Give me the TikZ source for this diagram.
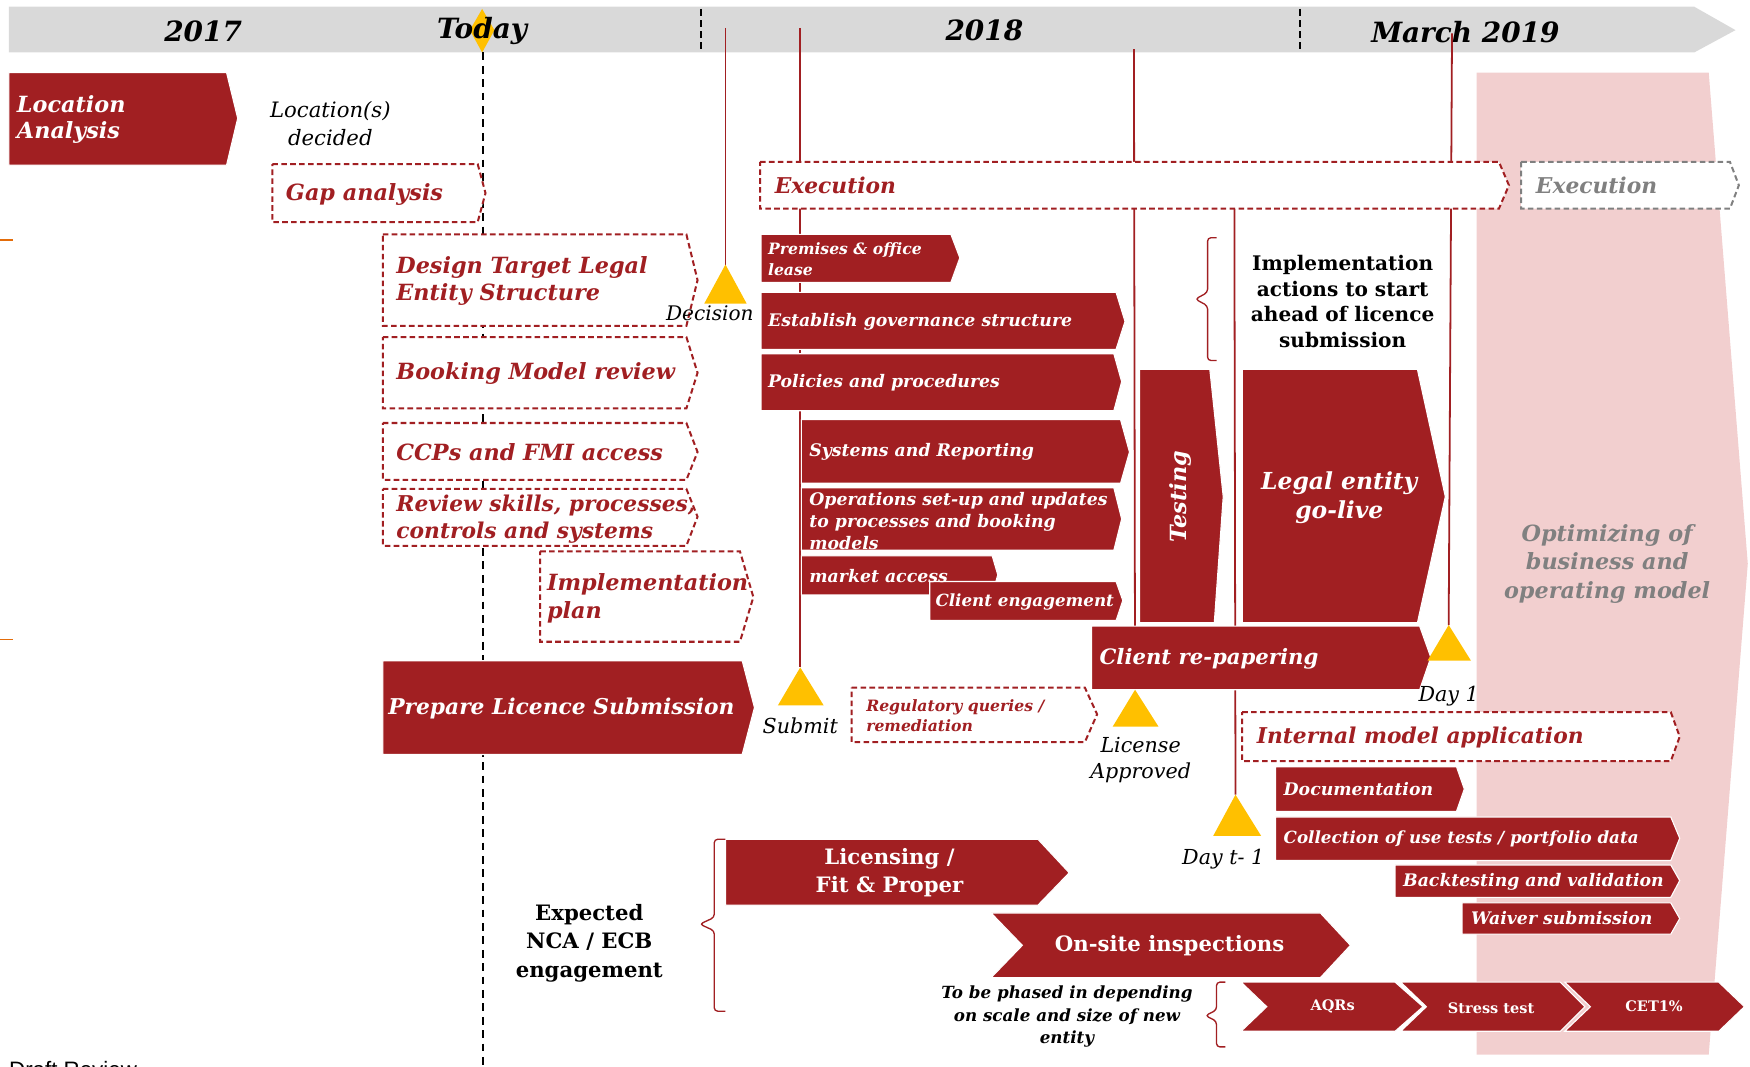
\documentclass[tikz,border=0pt]{standalone}
\usepackage{fontspec}
\setmainfont{DejaVu Serif}
\setsansfont{Liberation Sans}
\definecolor{pwcred}{HTML}{A11F22}
\definecolor{gold}{HTML}{FFC000}
\definecolor{pinkbg}{HTML}{F2CFCF}
\definecolor{barfill}{HTML}{D9D9D9}
\definecolor{greytxt}{HTML}{808080}
\definecolor{tickorange}{HTML}{E36C0A}
\begin{document}
\begin{tikzpicture}
                [x=1pt, y=-1pt, inner sep=0pt,
                redbox/.style={fill=pwcred, draw=white, line width=1pt},
                dashbox/.style={fill=white, draw=pwcred, line width=1.8pt, dash pattern=on 5pt off 3pt},
                greybox/.style={fill=white, draw=greytxt, line width=1.8pt, dash pattern=on 5pt off 3pt},
                marker/.style={fill=gold},
                vline/.style={draw=pwcred, line width=1.6pt},
                bracket/.style={draw=pwcred, line width=1.2pt, rounded corners=3pt},
                fbi/.style 2 args={font=\fontsize{#1}{#2}\selectfont\bfseries\itshape},
                fb/.style 2 args={font=\fontsize{#1}{#2}\selectfont\bfseries},
                fi/.style 2 args={font=\fontsize{#1}{#2}\selectfont\itshape},
                wtxt/.style={text=white},
                rtxt/.style={text=pwcred}]
                \useasboundingbox (0,0) rectangle (1568,956);
                % Timeline bar
                \fill[barfill] (8,6) -- (1518,6) -- (1555,27) -- (1518,47) -- (8,47) -- cycle;
                \draw[line width=1.5pt, dash pattern=on 6pt off 4pt] (628,8) -- (628,47);
                \draw[line width=1.5pt, dash pattern=on 6pt off 4pt] (1165,8) -- (1165,47);
                \fill[gold] (432,8) -- (443,27) -- (432,47) -- (421,27) -- cycle;
                % Optimizing area
                \fill[pinkbg] (1323,65) -- (1531,65) -- (1566,505) -- (1531,945) -- (1323,945) -- cycle;
                \draw[tickorange, line width=1.2pt] (0,215) -- (12,215);
                \draw[tickorange, line width=1.2pt] (0,573) -- (12,573);
                % Define coordinates
                \coordinate (todaytop) at (433,47);
                \coordinate (todayend) at (433,960);
                \coordinate (dectop) at (650,25);
                \coordinate (subtop) at (717,25);
                \coordinate (apptop) at (1016,44);
                \coordinate (tm1top) at (1106,187);
                \coordinate (day1top) at (1301,30);
                \coordinate (decision) at (650,237);
                \coordinate (submit) at (717,598);
                \coordinate (approved) at (1017,618);
                \coordinate (dayone) at (1298,560);
                \coordinate (daytm1) at (1107,712);
                % Define lines
                \draw[line width=1.8pt, dash pattern=on 7pt off 5pt] (todaytop) -- (todayend);
                \draw[vline] (dectop) -- (decision);
                \draw[vline] (subtop) -- (submit);
                \draw[vline] (apptop) -- (approved);
                \draw[vline] (tm1top) -- (daytm1);
                \draw[vline] (day1top) -- (dayone);
                % Left column
                \draw[redbox] (8,65) -- (203,65) -- (213,106) -- (203,148) -- (8,148) -- cycle;
                \draw[dashbox] (244,147) -- (428,147) -- (435,173) -- (428,199) -- (244,199) -- cycle;
                \draw[dashbox] (343,210) -- (615,210) -- (625,251) -- (615,292) -- (343,292) -- cycle;
                \draw[dashbox] (343,302) -- (615,302) -- (625,334) -- (615,366) -- (343,366) -- cycle;
                \draw[dashbox] (343,379) -- (615,379) -- (625,405) -- (615,430) -- (343,430) -- cycle;
                \draw[dashbox] (343,438) -- (615,438) -- (625,463) -- (615,489) -- (343,489) -- cycle;
                \draw[dashbox] (484,494) -- (663,494) -- (675,535) -- (663,575) -- (484,575) -- cycle;
                \draw[redbox] (343,592) -- (665,592) -- (676,634) -- (665,676) -- (343,676) -- cycle;
                % Execution
                \draw[dashbox] (681,145) -- (1343,145) -- (1352,166) -- (1343,187) -- (681,187) -- cycle;
                \draw[greybox] (1363,145) -- (1550,145) -- (1558,166) -- (1550,187) -- (1363,187) -- cycle;
                \draw[redbox] (682,210) -- (852,210) -- (860,231) -- (852,253) -- (682,253) -- cycle;
                \draw[redbox] (682,262) -- (1000,262) -- (1008,288) -- (1000,313) -- (682,313) -- cycle;
                \draw[redbox] (682,317) -- (998,317) -- (1005,342) -- (998,368) -- (682,368) -- cycle;
                \draw[redbox] (718,376) -- (1004,376) -- (1012,405) -- (1004,433) -- (718,433) -- cycle;
                \draw[redbox] (718,437) -- (998,437) -- (1005,465) -- (998,493) -- (718,493) -- cycle;
                \draw[redbox] (718,498) -- (889,498) -- (894,515) -- (889,533) -- (718,533) -- cycle;
                \draw[redbox] (833,521) -- (1000,521) -- (1006,538) -- (1000,556) -- (833,556) -- cycle;
                \draw[redbox] (1021,331) -- (1084,331) -- (1096,445) -- (1088,558) -- (1021,558) -- cycle;
                \draw[redbox] (1113,331) -- (1270,331) -- (1295,445) -- (1270,558) -- (1113,558) -- cycle;
                \draw[bracket] (1090,213) -- (1082,213) -- (1082,262) -- (1071,268) -- (1082,274) -- (1082,323) -- (1090,323);
                \draw[redbox] (978,561) -- (1272,561) -- (1282,589) -- (1272,618) -- (978,618) -- cycle;
                \draw[dashbox] (763,616) -- (972,616) -- (983,640) -- (972,665) -- (763,665) -- cycle;
                % Internal model
                \draw[dashbox] (1113,638) -- (1497,638) -- (1505,660) -- (1497,682) -- (1113,682) -- cycle;
                \draw[redbox] (1143,687) -- (1305,687) -- (1312,707) -- (1305,727) -- (1143,727) -- cycle;
                \draw[redbox] (1143,732) -- (1497,732) -- (1505,751) -- (1497,771) -- (1143,771) -- cycle;
                \draw[redbox] (1250,775) -- (1497,775) -- (1505,789) -- (1497,804) -- (1250,804) -- cycle;
                \draw[redbox] (1310,809) -- (1497,809) -- (1505,823) -- (1497,837) -- (1310,837) -- cycle;
                % Regulator engagement
                \draw[redbox] (650,752) -- (930,752) -- (958,782) -- (930,811) -- (650,811) -- cycle;
                \draw[redbox] (888,818) -- (1183,818) -- (1210,847) -- (1183,876) -- (888,876) -- (916,847) -- cycle;
                \draw[bracket] (650,752) -- (640,752) -- (640,822) -- (627,828) -- (640,834) -- (640,906) -- (650,906);
                \draw[bracket] (1098,880) -- (1090,880) -- (1090,905) -- (1080,910) -- (1090,915) -- (1090,938) -- (1098,938);
                \draw[redbox] (1112,880) -- (1250,880) -- (1275,902) -- (1250,924) -- (1112,924) -- (1135,902) -- cycle;
                \draw[redbox] (1255,880) -- (1398,880) -- (1420,902) -- (1398,924) -- (1255,924) -- (1278,902) -- cycle;
                \draw[redbox] (1402,880) -- (1540,880) -- (1563,902) -- (1540,924) -- (1402,924) -- (1425,902) -- cycle;
                % Milestones
                \fill[marker] (decision) -- (669,272) -- (631,272) -- cycle;
                \fill[marker] (submit) -- (738,632) -- (697,632) -- cycle;
                \fill[marker] (approved) -- (1038,651) -- (997,651) -- cycle;
                \fill[marker] (dayone) -- (1318,592) -- (1279,592) -- cycle;
                \fill[marker] (daytm1) -- (1130,749) -- (1087,749) -- cycle;
                % Define labels
                \node[fbi={25}{28}] (y2017) at (182,28) {2017};
                \node[fbi={25}{28}] (today) at (432,28) {Today};
                \node[fbi={25}{28}] (y2018) at (882,27) {2018};
                \node[fbi={25}{28}] (y2019) at (1313,29) {March 2019};
                \node[fbi={20}{24}, wtxt, anchor=west, align=left] (locana) at (15,107) {Location\\Analysis};
                \node[fi={19}{25}, align=center] (locdec) at (296,111) {Location(s)\\decided};
                \node[fbi={20}{24}, rtxt, anchor=west] (gap) at (256,174) {Gap analysis};
                \node[fbi={20}{24}, rtxt, anchor=west, align=left] (design) at (355,252) {Design Target Legal\\Entity Structure};
                \node[fbi={20}{24}, rtxt, anchor=west] (booking) at (355,335) {Booking Model review};
                \node[fbi={20}{24}, rtxt, anchor=west] (ccps) at (355,405) {CCPs and FMI access};
                \node[fbi={19.5}{24}, rtxt, anchor=west, align=left] (review) at (355,465) {Review skills, processes,\\controls and systems};
                \node[fbi={20}{25}, rtxt, anchor=west, align=left] (implplan) at (490,536) {Implementation\\plan};
                \node[fbi={19.5}{25}, wtxt] (prepare) at (503,635) {Prepare Licence Submission};
                \node[fbi={19.5}{24}, rtxt, anchor=west] (exec) at (694,166) {Execution};
                \node[fbi={19.5}{24}, text=greytxt, anchor=west] (execnext) at (1376,166) {Execution};
                \node[fbi={14}{19}, wtxt, anchor=west, align=left] (premises) at (688,232) {Premises \& office\\lease};
                \node[fbi={15.5}{20}, wtxt, anchor=west] (governance) at (688,288) {Establish governance structure};
                \node[fbi={15.5}{20}, wtxt, anchor=west] (policies) at (688,343) {Policies and procedures};
                \node[fbi={15.5}{20}, wtxt, anchor=west] (systems) at (725,405) {Systems and Reporting};
                \node[fbi={15.5}{20}, wtxt, anchor=west, align=left] (operations) at (725,467) {Operations set-up and updates\\to processes and booking\\models};
                \node[fbi={15.5}{20}, wtxt, anchor=west] (market) at (725,516) {market access};
                \node[fbi={15}{20}, wtxt, anchor=west] (clienteng) at (838,539) {Client engagement};
                \node[fbi={20}{24}, wtxt, rotate=90] (testing) at (1058,445) {Testing};
                \node[fbi={21}{26}, wtxt, align=center] (golive) at (1200,446) {Legal entity\\go-live};
                \node[fb={18}{23}, align=center] (actions) at (1203,270) {Implementation\\actions to start\\ahead of licence\\submission};
                \node[fbi={19}{24}, wtxt, anchor=west] (repaper) at (985,590) {Client re-papering};
                \node[fbi={14}{18}, rtxt, anchor=west, align=left] (regq) at (776,641) {Regulatory queries /\\remediation};
                \node[fbi={19.5}{24}, rtxt, anchor=west] (intmodel) at (1126,661) {Internal model application};
                \node[fbi={15.5}{20}, wtxt, anchor=west] (docs) at (1150,707) {Documentation};
                \node[fbi={15}{20}, wtxt, anchor=west] (usetests) at (1150,752) {Collection of use tests / portfolio data};
                \node[fbi={15.5}{20}, wtxt, anchor=west] (backtest) at (1257,790) {Backtesting and validation};
                \node[fbi={15.5}{20}, wtxt, anchor=west] (waiver) at (1318,823) {Waiver submission};
                \node[fb={19}{25}, wtxt, align=center] (licensing) at (797,782) {Licensing /\\Fit \& Proper};
                \node[fb={19}{24}, wtxt] (onsite) at (1048,847) {On-site inspections};
                \node[fb={19}{25.5}, align=center] (expected) at (528,845) {Expected\\NCA / ECB\\engagement};
                \node[fbi={15}{20}, align=center] (phased) at (956,911) {To be phased in depending\\on scale and size of new\\entity};
                \node[fb={13}{16}, wtxt] (aqrs) at (1194,902) {AQRs};
                \node[fb={13}{16}, wtxt] (stress) at (1336,903) {Stress test};
                \node[fb={13}{16}, wtxt] (cet1) at (1482,902) {CET1\%};
                \node[fbi={20}{25.5}, text=greytxt, align=center] (optim) at (1440,505) {Optimizing of\\business and\\operating model};
                \node[fi={18}{22}] (declabel) at (636,281) {Decision};
                \node[fi={18.5}{22}] (sublabel) at (717,650) {Submit};
                \node[fi={18.5}{24}, align=center] (applabel) at (1022,681) {License\\Approved};
                \node[fi={18.5}{22}] (day1label) at (1298,624) {Day 1};
                \node[fi={18.5}{22}] (tm1label) at (1096,770) {Day t- 1};
                \node[font=\sffamily\fontsize{20}{24}\selectfont, anchor=north west] (draft) at (8,951) {Draft Review};
            \end{tikzpicture}
\end{document}
